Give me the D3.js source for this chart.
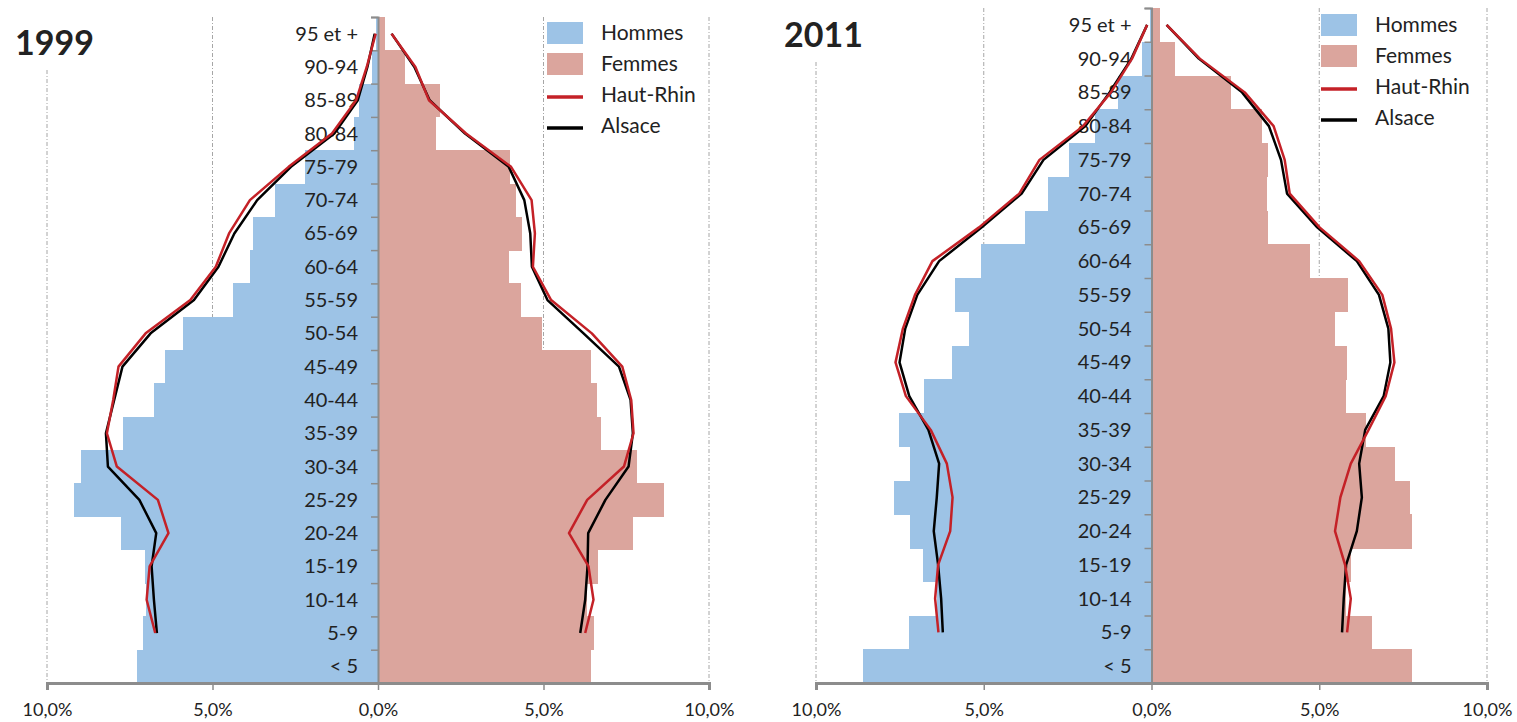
<!DOCTYPE html>
<html>
<head>
<meta charset="utf-8">
<script src="https://cdn.jsdelivr.net/npm/d3@7"></script>
<style>
  body { margin: 0; background: #fff; }
  svg { display: block; }
  text { font-family: Lato, "Open Sans", sans-serif; fill: #222; }
</style>
</head>
<body>
<svg id="chart" width="1517" height="722"></svg>
<script>
// age groups, from bottom to top
var ages = ["< 5", "5-9", "10-14", "15-19", "20-24", "25-29", "30-34", "35-39", "40-44", "45-49",
            "50-54", "55-59", "60-64", "65-69", "70-74", "75-79", "80-84", "85-89", "90-94", "95 et +"];

var xTicks = [-10, -5, 0, 5, 10];

// 1999 (percent)
var hommes1999 = [7.28, 7.09, 7.0, 7.03, 7.76, 9.17, 8.98, 7.69, 6.77, 6.45, 5.88, 4.39, 3.86, 3.77, 3.11, 2.21, 0.72, 0.58, 0.19, 0.05];
var femmes1999 = [6.45, 6.52, 6.3, 6.65, 7.70, 8.63, 7.81, 6.75, 6.62, 6.45, 4.94, 4.31, 3.95, 4.36, 4.18, 3.99, 1.75, 1.86, 0.82, 0.22];
var hautRhinH1999 = [null, 6.73, 6.99, 6.9, 6.33, 6.65, 7.89, 8.19, 8.0, 7.84, 7.02, 5.67, 4.9, 4.5, 3.87, 2.7, 1.39, 0.66, 0.34, 0.07];
var alsaceH1999 = [null, 6.68, 6.77, 6.84, 6.70, 7.21, 8.16, 8.22, 7.97, 7.72, 6.87, 5.56, 4.82, 4.34, 3.65, 2.63, 1.32, 0.61, 0.32, 0.1];
var hautRhinF1999 = [null, 6.26, 6.51, 6.36, 5.77, 6.32, 7.43, 7.72, 7.65, 7.38, 6.46, 5.23, 4.68, 4.74, 4.64, 4.02, 2.66, 1.54, 1.13, 0.41];
var alsaceF1999 = [null, 6.11, 6.26, 6.33, 6.35, 6.87, 7.57, 7.7, 7.63, 7.28, 6.21, 5.12, 4.65, 4.6, 4.42, 3.95, 2.63, 1.56, 1.1, 0.41];

// 2011 (percent)
var hommes2011 = [8.59, 7.24, 6.4, 6.81, 7.21, 7.67, 7.19, 7.54, 6.78, 5.94, 5.45, 5.87, 5.09, 3.77, 3.09, 2.45, 1.68, 0.99, 0.27, 0.05];
var femmes2011 = [7.77, 6.58, 5.8, 5.94, 7.76, 7.71, 7.27, 6.4, 5.81, 5.84, 5.47, 5.86, 4.72, 3.47, 3.45, 3.47, 3.28, 2.37, 0.69, 0.26];
var hautRhinH2011 = [null, 6.35, 6.45, 6.36, 6.0, 5.93, 6.1, 6.58, 7.32, 7.63, 7.41, 7.05, 6.53, 5.14, 3.94, 3.34, 2.04, 1.21, 0.58, 0.13];
var alsaceH2011 = [null, 6.22, 6.27, 6.36, 6.49, 6.4, 6.33, 6.65, 7.22, 7.51, 7.34, 6.98, 6.33, 5.06, 3.87, 3.22, 1.97, 1.25, 0.6, 0.13];
var hautRhinF2011 = [null, 5.83, 5.94, 5.77, 5.47, 5.63, 5.94, 6.47, 6.98, 7.24, 7.14, 6.88, 6.19, 5.01, 4.12, 3.97, 3.64, 2.78, 1.44, 0.45];
var alsaceF2011 = [null, 5.68, 5.73, 5.8, 6.12, 6.27, 6.19, 6.37, 6.92, 7.12, 7.06, 6.78, 6.12, 4.94, 4.04, 3.86, 3.5, 2.7, 1.41, 0.45];

var legendLabels = ["Hommes", "Femmes", "Haut-Rhin", "Alsace"];

var colHommes = "#9dc3e6";
var colFemmes = "#dba59d";
var colHR = "#c42127";
var colAls = "#000000";

var svg = d3.select("#chart");

function fmt(v) { return Math.abs(v).toFixed(1).replace(".", ",") + "%" }

function drawPyramid(cfg) {
  var g = svg.append("g");

  var x = d3.scaleLinear().domain([-10, 10]).range([cfg.x0, cfg.x1]);
  var y = d3.scaleBand().domain(ages.slice().reverse()).range([cfg.top, cfg.bottom]);
  var bw = y.bandwidth();

  // vertical dash-dot gridlines
  g.selectAll("line.grid")
    .data(xTicks.filter(function (t) { return t !== 0 }))
    .enter().append("line")
      .attr("class", "grid")
      .attr("x1", function (t) { return x(t) })
      .attr("x2", function (t) { return x(t) })
      .attr("y1", function (t) { return t === -10 ? cfg.gridTopLeft : cfg.top })
      .attr("y2", cfg.bottom)
      .attr("stroke", "#a6a6a6")
      .attr("stroke-width", 1)
      .attr("stroke-dasharray", "4,2,1,2");

  // bars
  g.selectAll("rect.h")
    .data(ages)
    .enter().append("rect")
      .attr("x", function (d, i) { return x(-cfg.hommes[i]) })
      .attr("y", function (d) { return y(d) })
      .attr("width", function (d, i) { return x(0) - x(-cfg.hommes[i]) })
      .attr("height", bw + 0.5)
      .attr("fill", colHommes)
      .attr("shape-rendering", "crispEdges");

  g.selectAll("rect.f")
    .data(ages)
    .enter().append("rect")
      .attr("x", x(0))
      .attr("y", function (d) { return y(d) })
      .attr("width", function (d, i) { return x(cfg.femmes[i]) - x(0) })
      .attr("height", bw + 0.5)
      .attr("fill", colFemmes)
      .attr("shape-rendering", "crispEdges");

  // center axis with ticks at band edges
  var yEdge = d3.scaleLinear().domain([0, ages.length]).range([cfg.bottom, cfg.top]);
  var centerAxis = g.append("g")
    .attr("transform", "translate(" + x(0) + ",0)")
    .call(d3.axisLeft(yEdge).tickValues(d3.range(0, ages.length + 1)).tickSize(7).tickFormat(""));
  centerAxis.select(".domain").attr("stroke", "#8c8c8c").attr("stroke-width", 2);
  centerAxis.selectAll(".tick line").attr("stroke", "#8c8c8c").attr("stroke-width", 1.5);

  // category labels
  g.selectAll("text.age")
    .data(ages)
    .enter().append("text")
      .attr("x", x(0) - 20)
      .attr("y", function (d) { return y(d) + bw / 2 })
      .attr("dy", "0.35em")
      .attr("text-anchor", "end")
      .attr("font-size", 20)
      .text(function (d) { return d });

  // lines
  function lineFor(vals, sign) {
    return d3.line()
      .defined(function (d) { return d.v != null })
      .x(function (d) { return x(sign * d.v) })
      .y(function (d) { return y(d.a) + bw / 2 })(ages.map(function (a, i) { return { a: a, v: vals[i] } }));
  }
  [[cfg.alsH, -1, colAls], [cfg.alsF, 1, colAls], [cfg.hrH, -1, colHR], [cfg.hrF, 1, colHR]].forEach(function (s) {
    g.append("path")
      .attr("d", lineFor(s[0], s[1]))
      .attr("fill", "none")
      .attr("stroke", s[2])
      .attr("stroke-width", 2.5)
      .attr("stroke-linejoin", "round");
  });

  // bottom axis
  var bottomAxis = g.append("g")
    .attr("transform", "translate(0," + cfg.bottom + ")")
    .call(d3.axisBottom(x).tickValues(xTicks).tickSize(7).tickPadding(13).tickFormat(fmt));
  bottomAxis.select(".domain").attr("stroke", "#8c8c8c").attr("stroke-width", 3);
  bottomAxis.selectAll(".tick line").attr("stroke", "#8c8c8c").attr("stroke-width", 1.5);
  bottomAxis.selectAll(".tick text")
    .attr("font-size", 18)
    .attr("font-family", "Lato, sans-serif")
    .attr("fill", "#222");

  // title
  g.append("text")
    .attr("x", cfg.titleX)
    .attr("y", cfg.titleY)
    .attr("font-size", 34)
    .attr("font-weight", "bold")
    .text(cfg.year);

  // legend
  var leg = g.append("g").attr("transform", "translate(" + cfg.legX + "," + cfg.legY + ")");
  legendLabels.forEach(function (lab, i) {
    var row = leg.append("g").attr("transform", "translate(0," + i * cfg.legStep + ")");
    if (i < 2) {
      row.append("rect")
        .attr("x", 0).attr("y", -11).attr("width", 36).attr("height", 22)
        .attr("fill", i === 0 ? colHommes : colFemmes);
    } else {
      row.append("line")
        .attr("x1", 0).attr("x2", 36).attr("y1", 2).attr("y2", 2)
        .attr("stroke", i === 2 ? colHR : colAls)
        .attr("stroke-width", 3.5);
    }
    row.append("text")
      .attr("x", 54)
      .attr("y", 0)
      .attr("dy", "0.35em")
      .attr("font-size", 21)
      .text(lab);
  });
}

drawPyramid({
  year: "1999", x0: 47, x1: 709, top: 17, bottom: 683, gridTopLeft: 70,
  hommes: hommes1999, femmes: femmes1999,
  hrH: hautRhinH1999, hrF: hautRhinF1999, alsH: alsaceH1999, alsF: alsaceF1999,
  titleX: 15, titleY: 55, legX: 547, legY: 33, legStep: 31
});

drawPyramid({
  year: "2011", x0: 816, x1: 1487, top: 8, bottom: 683, gridTopLeft: 62,
  hommes: hommes2011, femmes: femmes2011,
  hrH: hautRhinH2011, hrF: hautRhinF2011, alsH: alsaceH2011, alsF: alsaceF2011,
  titleX: 784, titleY: 47, legX: 1321, legY: 25, legStep: 31
});
</script>
</body>
</html>
